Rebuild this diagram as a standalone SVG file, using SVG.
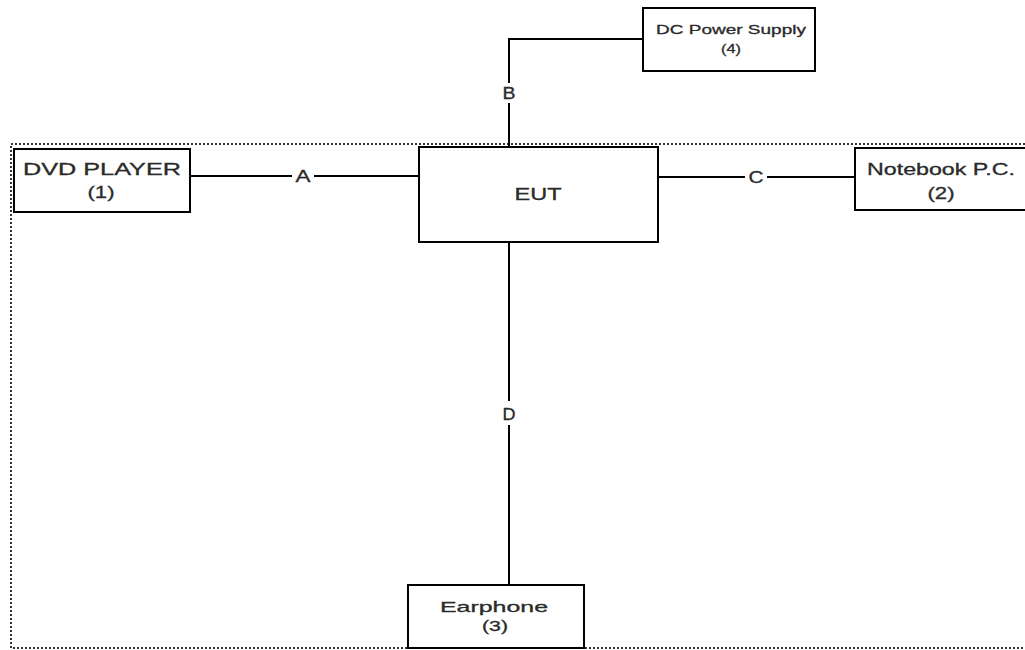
<svg xmlns="http://www.w3.org/2000/svg" width="1025" height="650" viewBox="0 0 1025 650">
<style>
.box{fill:#fff;stroke:#000;stroke-width:2}
.line{fill:none;stroke:#000;stroke-width:2}
.border{fill:none;stroke:#333;stroke-width:2;stroke-dasharray:2 2}
text{font-family:"Liberation Sans",Arial,sans-serif;fill:#2a2a2a;stroke:#2a2a2a;stroke-width:0.3px;text-anchor:middle}
.lbl{font-size:16px}
.halo{fill:#fff}
</style>
<rect width="1025" height="650" fill="#fff"/>
<rect class="border" x="11" y="144" width="1030" height="504"/>
<g id="connectors">
<polyline class="line" points="643,39 509,39 509,147"/>
<line class="line" x1="190" y1="176" x2="419" y2="176"/>
<line class="line" x1="658" y1="177" x2="855" y2="177"/>
<line class="line" x1="509" y1="242" x2="509" y2="585"/>
<rect class="halo" x="499" y="83" width="20" height="20"/>
<rect class="halo" x="292" y="167" width="22" height="18"/>
<rect class="halo" x="745" y="168" width="22" height="18"/>
<rect class="halo" x="499" y="401" width="20" height="24"/>
<text class="lbl" x="509" y="99" textLength="13" lengthAdjust="spacingAndGlyphs">B</text>
<text class="lbl" x="303" y="182" textLength="15" lengthAdjust="spacingAndGlyphs">A</text>
<text class="lbl" x="756" y="183" textLength="15" lengthAdjust="spacingAndGlyphs">C</text>
<text class="lbl" x="509" y="420" textLength="13" lengthAdjust="spacingAndGlyphs">D</text>
</g>
<g id="dc">
<rect class="box" x="643" y="8" width="172" height="63"/>
<text x="731" y="34" font-size="13" textLength="150" lengthAdjust="spacingAndGlyphs">DC Power Supply</text>
<text x="731" y="53" font-size="13" textLength="20" lengthAdjust="spacingAndGlyphs">(4)</text>
</g>
<g id="dvd">
<rect class="box" x="14" y="149" width="176" height="63"/>
<text x="102" y="175" font-size="17" textLength="158" lengthAdjust="spacingAndGlyphs">DVD PLAYER</text>
<text x="101" y="198" font-size="17" textLength="27" lengthAdjust="spacingAndGlyphs">(1)</text>
</g>
<g id="eut">
<rect class="box" x="419" y="147" width="239" height="95"/>
<text x="538" y="200" font-size="16" textLength="47" lengthAdjust="spacingAndGlyphs">EUT</text>
</g>
<g id="notebook">
<rect class="box" x="855" y="148" width="180" height="62"/>
<text x="941" y="175" font-size="16" textLength="148" lengthAdjust="spacingAndGlyphs">Notebook P.C.</text>
<text x="941" y="199" font-size="16" textLength="27" lengthAdjust="spacingAndGlyphs">(2)</text>
</g>
<g id="earphone">
<rect class="box" x="408" y="585" width="176" height="63"/>
<text x="494" y="612" font-size="15" textLength="108" lengthAdjust="spacingAndGlyphs">Earphone</text>
<text x="495" y="631" font-size="15" textLength="26" lengthAdjust="spacingAndGlyphs">(3)</text>
</g>
</svg>
